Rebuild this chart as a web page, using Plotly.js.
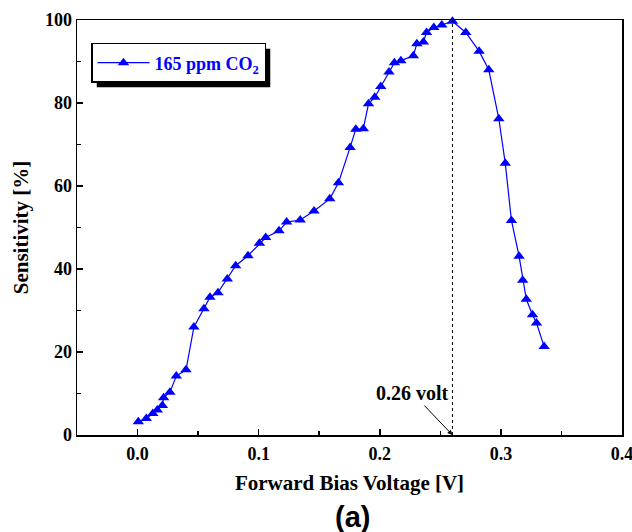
<!DOCTYPE html>
<html>
<head>
<meta charset="utf-8">
<script src="https://cdn.plot.ly/plotly-3.0.1.min.js"></script>
<style>
  html, body { margin: 0; padding: 0; background: #ffffff; }
  #chart { width: 632px; height: 532px; }
</style>
</head>
<body>
<div id="chart"></div>
<script>
// Forward bias voltage (V) and CO2 sensitivity (%)
const voltage = [0.0006, 0.0072, 0.0126, 0.0163, 0.0205, 0.0215, 0.0267, 0.032, 0.040,
  0.0465, 0.0548, 0.0598, 0.0664, 0.0741, 0.0810, 0.0912, 0.1006,
  0.1058, 0.1168, 0.1231, 0.1343, 0.1457,
  0.1587, 0.1659, 0.1755, 0.1802, 0.1864, 0.1907, 0.1959, 0.2008, 0.2076, 0.2121,
  0.2174, 0.2277, 0.2306, 0.2360, 0.2386, 0.2446, 0.2512, 0.26,
  0.2710, 0.2820, 0.2900, 0.2983, 0.3036, 0.3087, 0.3150, 0.3180, 0.3210, 0.3261, 0.3294, 0.3357];
const sensitivity = [3.2, 4.0, 5.2, 6.0, 7.1, 9.0, 10.3, 14.2, 15.7,
  26.0, 30.4, 33.2, 34.3, 37.6, 40.8, 43.2, 46.2,
  47.6, 49.2, 51.3, 51.8, 54.0,
  56.9, 60.8, 69.3, 73.7, 73.8, 79.8, 81.4, 84.0, 87.5, 89.7,
  90.2, 91.4, 94.3, 94.7, 97.0, 98.2, 98.8, 99.7,
  97.0, 92.5, 88.0, 76.2, 65.5, 51.7, 43.1, 37.3, 32.7, 29.0, 27.0, 21.3];

const seriesName = '165 ppm CO<sub>2</sub>';
const peakVoltage = 0.26;
const peakLabel = '0.26 volt';

const xTickVals = [0, 0.1, 0.2, 0.3, 0.4];
const xTickText = ['0.0', '0.1', '0.2', '0.3', '0.4'];
const xMinorVals = [0.05, 0.15, 0.25, 0.35];
const yTickVals = [0, 20, 40, 60, 80, 100];
const yMinorVals = [10, 30, 50, 70, 90];

const serif = 'Liberation Serif, Times New Roman, serif';
const M = { l: 77, r: 10, t: 20, b: 97 };

const trace = {
  x: voltage,
  y: sensitivity,
  name: seriesName,
  type: 'scatter',
  mode: 'lines+markers',
  line: { color: '#0000ff', width: 1.2 },
  marker: { symbol: 'triangle-up', size: 10, color: '#0000ff', line: { width: 0 } },
  cliponaxis: false
};

const axisCommon = {
  showline: true, linecolor: '#000', linewidth: 1.5, mirror: true,
  showgrid: false, zeroline: false,
  ticks: 'inside', ticklen: 6, tickwidth: 1.5, tickcolor: '#000',
  ticklabeloverflow: 'allow',
  tickfont: { family: serif, size: 18, color: '#000', weight: 'bold' }
};

const layout = {
  width: 632, height: 532,
  margin: M,
  paper_bgcolor: '#fff', plot_bgcolor: '#fff',
  showlegend: true,
  legend: {
    x: 0.0257, y: 0.9446, xanchor: 'left', yanchor: 'top',
    bgcolor: '#fff', bordercolor: '#000', borderwidth: 1.5,
    itemwidth: 52,
    font: { family: serif, size: 18, color: '#0000ff', weight: 'bold' }
  },
  xaxis: Object.assign({}, axisCommon, {
    range: [-0.05, 0.4],
    tickmode: 'array', tickvals: xTickVals, ticktext: xTickText,
    ticklabelstandoff: 2,
    minor: { tickmode: 'array', tickvals: xMinorVals, ticks: 'inside', ticklen: 4, tickwidth: 1.5, tickcolor: '#000' },
    title: { text: 'Forward Bias Voltage [V]', standoff: 12,
             font: { family: serif, size: 21, color: '#000', weight: 'bold' } }
  }),
  yaxis: Object.assign({}, axisCommon, {
    range: [0, 100],
    tickmode: 'array', tickvals: yTickVals,
    minor: { tickmode: 'array', tickvals: yMinorVals, ticks: 'inside', ticklen: 4, tickwidth: 1.5, tickcolor: '#000' },
    title: { text: 'Sensitivity [%]', standoff: 10,
             font: { family: serif, size: 21, color: '#000', weight: 'bold' } }
  }),
  shapes: [
    { type: 'line', xref: 'x', yref: 'y', x0: peakVoltage, x1: peakVoltage, y0: 0, y1: 100,
      line: { color: '#000', width: 1, dash: 'dot' } }
  ],
  annotations: [
    { x: peakVoltage, y: 0, xref: 'x', yref: 'y', text: peakLabel,
      showarrow: true, arrowhead: 2, arrowsize: 1, arrowwidth: 1, arrowcolor: '#000',
      ax: -40, ay: -42,
      font: { family: serif, size: 20, color: '#000', weight: 'bold' } },
    { x: 0.5046, y: -0.197, xref: 'paper', yref: 'paper', text: '(a)', showarrow: false,
      xanchor: 'center', yanchor: 'middle',
      font: { family: 'Liberation Sans, Arial, sans-serif', size: 29, color: '#000', weight: 'bold' } }
  ]
};

const gd = document.getElementById('chart');
Plotly.newPlot(gd, [trace], layout, { displayModeBar: false, staticPlot: true }).then(function () {
  // drop shadow behind the legend box
  const bg = gd.querySelector('.legend .bg');
  if (!bg) return;
  const r = bg.getBoundingClientRect();
  const g = gd.getBoundingClientRect();
  const pw = 632 - M.l - M.r, ph = 532 - M.t - M.b;
  const off = 5;
  const toPx = function (px) { return (px - M.l) / pw; };
  const toPy = function (py) { return (532 - M.b - py) / ph; };
  const left = r.left - g.left + off, right = r.right - g.left + off;
  const top = r.top - g.top + off, bottom = r.bottom - g.top + off;
  const shadow = { type: 'rect', xref: 'paper', yref: 'paper', layer: 'above',
    x0: toPx(left), x1: toPx(right), y0: toPy(bottom), y1: toPy(top),
    fillcolor: '#000', line: { width: 0 } };
  Plotly.relayout(gd, { shapes: layout.shapes.concat([shadow]) });
});
</script>
</body>
</html>
